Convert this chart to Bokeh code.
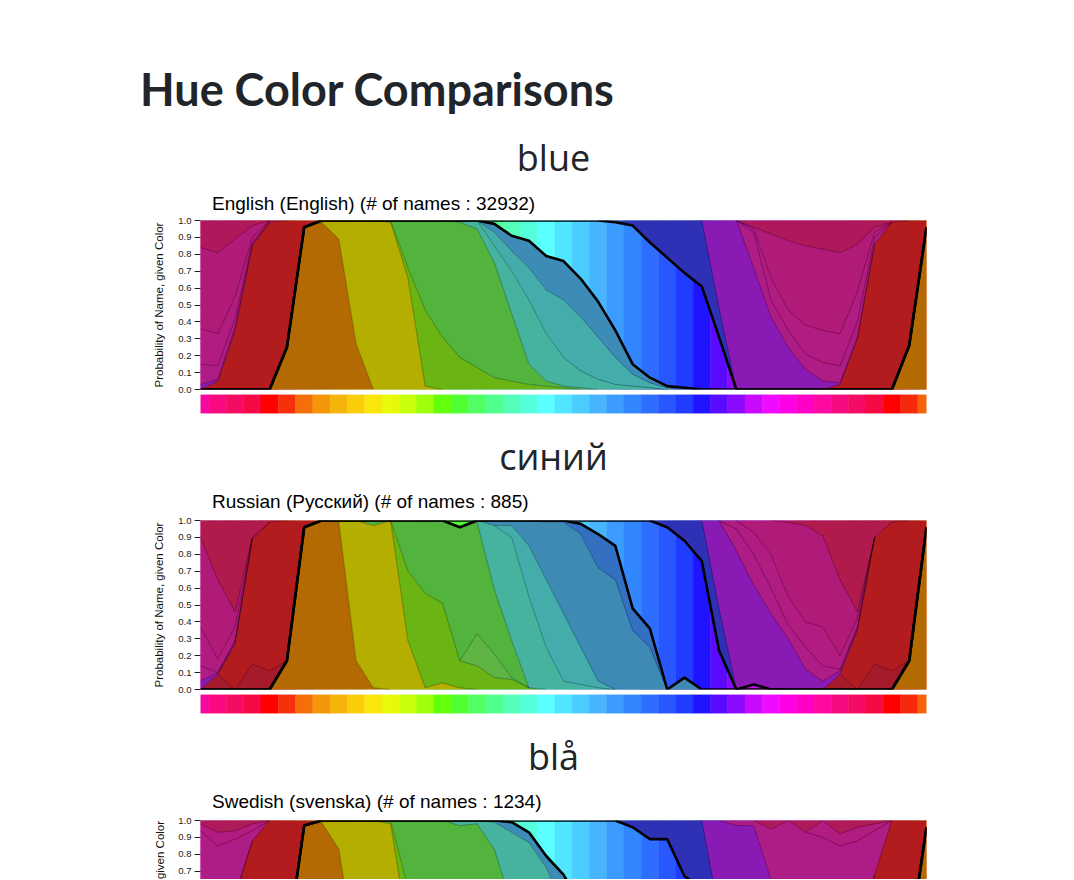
import html
import numpy as np
from bokeh.plotting import figure
from bokeh.models import FixedTicker, Range1d, PrintfTickFormatter, Div
from bokeh.layouts import column, row
from bokeh.embed import file_html
from bokeh.resources import INLINE
from bokeh.core.properties import value

# ---------------- data ----------------
page_title = "Hue Color Comparisons"
y_axis_title = "Probability of Name, given Color"
y_ticks = [0.0, 0.1, 0.2, 0.3, 0.4, 0.5, 0.6, 0.7, 0.8, 0.9, 1.0]

hue_colors = [
    "#F40AA0", "#FA0A80", "#F50A64", "#F50A46", "#FF0000", "#F5300A", "#F56E0A", "#F5960A", "#F5B40A", "#FACD0A",
    "#FAE60A", "#E6FA0A", "#C8FF0A", "#A0FF0A", "#64FF0A", "#50FF32", "#50FF64", "#50FF8C", "#55FFB9", "#55FFDC",
    "#5AFFFF", "#50E6FF", "#4BCDFF", "#46B4FF", "#3C9BFF", "#3287FF", "#2D6EFF", "#2857FF", "#203CFF", "#1E14FF",
    "#5A0AFF", "#8C0AFF", "#C80AFF", "#F00AFF", "#FF00E6", "#FF00C8", "#FF0AA0", "#F50A80", "#F50A64", "#F50A46",
    "#FF0000", "#F52A0A", "#F5640A"]

# English
en_heading = "blue"
en_subtitle = "English (English) (# of names : 32932)"
en_selected = "blue"
en_orange = [0, 0, 0, 0, 0, .25, .96, .99, .89, .27,
             0, 0, 0, 0, 0, 0, 0, 0, 0, 0,
             0, 0, 0, 0, 0, 0, 0, 0, 0, 0,
             0, 0, 0, 0, 0, 0, 0, 0, 0, 0,
             0, .26, .96]
en_yellow = [0, 0, 0, 0, 0, 0, 0, .01, .11, .73,
             1, .99, .66, .02, 0, 0, 0, 0, 0, 0,
             0, 0, 0, 0, 0, 0, 0, 0, 0, 0,
             0, 0, 0, 0, 0, 0, 0, 0, 0, 0,
             0, 0, 0]
en_lime = [0, 0, 0, 0, 0, 0, 0, 0, 0, 0,
           0, .01, .06, .45, .31, .19, .13, .07, .05, .03,
           .02, .01, 0, 0, 0, 0, 0, 0, 0, 0,
           0, 0, 0, 0, 0, 0, 0, 0, 0, 0,
           0, 0, 0]
en_green = [0, 0, 0, 0, 0, 0, 0, 0, 0, 0,
            0, 0, .28, .53, .69, .80, .82, .68, .40, .12,
            .03, .01, .01, 0, 0, 0, 0, 0, 0, 0,
            0, 0, 0, 0, 0, 0, 0, 0, 0, 0,
            0, 0, 0]
en_teal = [0, 0, 0, 0, 0, 0, 0, 0, 0, 0,
           0, 0, 0, 0, 0, .01, .05, .10, .25, .38,
           .28, .17, .10, .06, .03, .02, .01, 0, 0, 0,
           0, 0, 0, 0, 0, 0, 0, 0, 0, 0,
           0, 0, 0]
en_turquoise = [0, 0, 0, 0, 0, 0, 0, 0, 0, 0,
                0, 0, 0, 0, 0, 0, 0, .08, .12, .19,
                .26, .34, .32, .25, .16, .07, .03, .01, 0, 0,
                0, 0, 0, 0, 0, 0, 0, 0, 0, 0,
                0, 0, 0]
en_steelblue = [0, 0, 0, 0, 0, 0, 0, 0, 0, 0,
                0, 0, 0, 0, 0, 0, 0, .05, .09, .16,
                .20, .23, .225, .21, .16, .06, .03, .01, .01, 0,
                0, 0, 0, 0, 0, 0, 0, 0, 0, 0,
                0, 0, 0]
en_blue = [0, 0, 0, 0, 0, 0, 0, 0, 0, 0,
           0, 0, 0, 0, 0, 0, 0, .02, .09, .12,
           .21, .24, .345, .48, .64, .82, .80, .76, .68, .61,
           .31, 0, 0, 0, 0, 0, 0, 0, 0, 0,
           0, 0, 0]
en_navy = [0, 0, 0, 0, 0, 0, 0, 0, 0, 0,
           0, 0, 0, 0, 0, 0, 0, 0, 0, 0,
           0, 0, 0, 0, .01, .03, .13, .22, .31, .39,
           .17, 0, 0, 0, 0, 0, 0, 0, 0, 0,
           0, 0, 0]
en_red = [0, .05, .35, .85, .99, .75, .04, 0, 0, 0,
          0, 0, 0, 0, 0, 0, 0, 0, 0, 0,
          0, 0, 0, 0, 0, 0, 0, 0, 0, 0,
          0, 0, 0, 0, 0, 0, 0, .03, .30, .86,
          .99, .74, .04]
en_purple = [.03, .01, .02, .01, 0, 0, 0, 0, 0, 0,
             0, 0, 0, 0, 0, 0, 0, 0, 0, 0,
             0, 0, 0, 0, 0, 0, 0, 0, 0, 0,
             .52, 1.0, .72, .43, .25, .12, .05, .01, .01, 0,
             0, 0, 0]
en_magenta = [.12, .08, .05, .01, .01, 0, 0, 0, 0, 0,
              0, 0, 0, 0, 0, 0, 0, 0, 0, 0,
              0, 0, 0, 0, 0, 0, 0, 0, 0, 0,
              0, 0, .21, .10, .10, .09, .11, .10, .09, .04,
              0, 0, 0]
en_pink = [.21, .19, .13, .03, 0, 0, 0, 0, 0, 0,
           0, 0, 0, 0, 0, 0, 0, 0, 0, 0,
           0, 0, 0, 0, 0, 0, 0, 0, 0, 0,
           0, 0, .02, .13, .12, .17, .19, .19, .18, .03,
           0, 0, 0]
en_fuchsia = [.48, .48, .34, .07, 0, 0, 0, 0, 0, 0,
              0, 0, 0, 0, 0, 0, 0, 0, 0, 0,
              0, 0, 0, 0, 0, 0, 0, 0, 0, 0,
              0, 0, .01, .26, .41, .47, .48, .48, .28, .03,
              0, 0, 0]
en_crimson = [.16, .19, .11, .03, 0, 0, 0, 0, 0, 0,
              0, 0, 0, 0, 0, 0, 0, 0, 0, 0,
              0, 0, 0, 0, 0, 0, 0, 0, 0, 0,
              0, 0, .04, .08, .12, .15, .17, .19, .14, .04,
              .01, 0, 0]
en_terms = ["orange", "yellow", "lime", "green", "teal", "turquoise", "steelblue", "blue",
            "navy", "red", "purple", "magenta", "pink", "fuchsia", "crimson"]
en_values = [en_orange, en_yellow, en_lime, en_green, en_teal, en_turquoise, en_steelblue, en_blue,
             en_navy, en_red, en_purple, en_magenta, en_pink, en_fuchsia, en_crimson]

# Russian
ru_heading = "синий"
ru_subtitle = "Russian (Русский) (# of names : 885)"
ru_selected = "синий"
ru_orange = [0, 0, 0, 0, 0, .17, .96, 1.0, .99, .17,
             .01, 0, 0, 0, 0, 0, 0, 0, 0, 0,
             0, 0, 0, 0, 0, 0, 0, 0, 0, 0,
             0, 0, 0, 0, 0, 0, 0, 0, 0, 0,
             0, .17, .96]
ru_yellow = [0, 0, 0, 0, 0, 0, 0, 0, .01, .83,
             .96, 1.0, .29, .01, .04, .01, 0, 0, 0, 0,
             0, 0, 0, 0, 0, 0, 0, 0, 0, 0,
             0, 0, 0, 0, 0, 0, 0, 0, 0, 0,
             0, 0, 0]
ru_lime = [0, 0, 0, 0, 0, 0, 0, 0, 0, 0,
           0, 0, .41, .56, .47, .16, .14, .07, .06, .01,
           0, 0, 0, 0, 0, 0, 0, 0, 0, 0,
           0, 0, 0, 0, 0, 0, 0, 0, 0, 0,
           0, 0, 0]
ru_lightgreen = [0, 0, 0, 0, 0, 0, 0, 0, 0, 0,
                 0, 0, 0, 0, 0, 0, .19, .14, .01, 0,
                 0, 0, 0, 0, 0, 0, 0, 0, 0, 0,
                 0, 0, 0, 0, 0, 0, 0, 0, 0, 0,
                 0, 0, 0]
ru_green = [0, 0, 0, 0, 0, 0, 0, 0, 0, 0,
            .03, 0, .30, .43, .49, .79, .66, .38, .22, 0,
            0, 0, 0, 0, 0, 0, 0, 0, 0, 0,
            0, 0, 0, 0, 0, 0, 0, 0, 0, 0,
            0, 0, 0]
ru_teal = [0, 0, 0, 0, 0, 0, 0, 0, 0, 0,
           0, 0, 0, 0, 0, 0, .01, .38, .61, .54,
           .25, .05, .03, .01, 0, 0, 0, 0, 0, 0,
           0, 0, 0, 0, 0, 0, 0, 0, 0, 0,
           0, 0, 0]
ru_turquoise = [0, 0, 0, 0, 0, 0, 0, 0, 0, 0,
                0, 0, 0, 0, 0, 0, 0, 0, .07, .30,
                .40, .40, .22, .04, 0, 0, 0, 0, 0, 0,
                0, 0, 0, 0, 0, 0, 0, 0, 0, 0,
                0, 0, 0]
ru_lightblue = [0, 0, 0, 0, 0, 0, 0, 0, 0, 0,
                0, 0, 0, 0, 0, 0, 0, .03, .03, .15,
                .34, .54, .67, .67, .65, .35, .25, 0, .07, 0,
                0, 0, 0, 0, 0, 0, 0, 0, 0, 0,
                0, 0, 0]
ru_darkblue = [0, 0, 0, 0, 0, 0, 0, 0, 0, 0,
               0, 0, 0, 0, 0, 0, 0, 0, 0, 0,
               .01, .01, .06, .20, .20, .13, .11, 0, 0, 0,
               0, 0, 0, 0, 0, 0, 0, 0, 0, 0,
               0, 0, 0]
ru_blue = [0, 0, 0, 0, 0, 0, 0, 0, 0, 0,
           0, 0, 0, 0, 0, .04, 0, 0, 0, 0,
           0, 0, .02, .08, .15, .52, .64, .96, .81, .76,
           .23, 0, .03, 0, 0, 0, 0, 0, 0, 0,
           0, 0, 0]
ru_navy = [0, 0, 0, 0, 0, 0, 0, 0, 0, 0,
           0, 0, 0, 0, 0, 0, 0, 0, 0, 0,
           0, 0, 0, 0, 0, 0, 0, .04, .12, .24,
           .25, 0, 0, 0, 0, 0, 0, 0, 0, 0,
           0, 0, 0]
ru_maroon = [0, .09, 0, .15, .11, 0, 0, 0, 0, 0,
             0, 0, 0, 0, 0, 0, 0, 0, 0, 0,
             0, 0, 0, 0, 0, 0, 0, 0, 0, 0,
             0, 0, 0, 0, 0, 0, 0, .09, 0, .15,
             .11, 0, 0]
ru_red = [0, 0, .27, .74, .88, .83, .04, 0, 0, 0,
          0, 0, 0, 0, 0, 0, 0, 0, 0, 0,
          0, 0, 0, 0, 0, 0, 0, 0, 0, 0,
          0, 0, 0, 0, 0, 0, 0, 0, .35, .75,
          .88, .83, .04]
ru_purple = [.05, .01, .01, 0, 0, 0, 0, 0, 0, 0,
             0, 0, 0, 0, 0, 0, 0, 0, 0, 0,
             0, 0, 0, 0, 0, 0, 0, 0, 0, 0,
             .52, .82, .59, .45, .30, .12, .05, .02, .01, 0,
             0, 0, 0]
ru_magenta = [.09, 0, .01, .01, 0, 0, 0, 0, 0, 0,
              0, 0, 0, 0, 0, 0, 0, 0, 0, 0,
              0, 0, 0, 0, 0, 0, 0, 0, 0, 0,
              0, .13, .18, .15, .08, .13, .09, .01, .01, 0,
              0, 0, 0]
ru_pink = [.23, .08, .08, 0, 0, 0, 0, 0, 0, 0,
           0, 0, 0, 0, 0, 0, 0, 0, 0, 0,
           0, 0, 0, 0, 0, 0, 0, 0, 0, 0,
           0, .05, .13, .20, .17, .15, .23, .08, .05, 0,
           0, 0, 0]
ru_fuchsia = [.53, .47, .09, 0, 0, 0, 0, 0, 0, 0,
              0, 0, 0, 0, 0, 0, 0, 0, 0, 0,
              0, 0, 0, 0, 0, 0, 0, 0, 0, 0,
              0, 0, .07, .20, .44, .57, .54, .45, .04, 0,
              0, 0, 0]
ru_crimson = [.10, .35, .54, .10, .01, 0, 0, 0, 0, 0,
              0, 0, 0, 0, 0, 0, 0, 0, 0, 0,
              0, 0, 0, 0, 0, 0, 0, 0, 0, 0,
              0, 0, 0, 0, .01, .03, .09, .35, .54, .10,
              .01, 0, 0]
ru_terms = ["orange", "yellow", "lime", "lightgreen", "green", "teal", "turquoise", "lightblue",
            "darkblue", "синий", "navy", "maroon", "red", "purple", "magenta", "pink", "fuchsia", "crimson"]
ru_values = [ru_orange, ru_yellow, ru_lime, ru_lightgreen, ru_green, ru_teal, ru_turquoise, ru_lightblue,
             ru_darkblue, ru_blue, ru_navy, ru_maroon, ru_red, ru_purple, ru_magenta, ru_pink, ru_fuchsia,
             ru_crimson]

# Swedish
sv_heading = "blå"
sv_subtitle = "Swedish (svenska) (# of names : 1234)"
sv_selected = "blå"
sv_orange = [0, 0, 0, 0, 0, .25, .97, .99, .83, .20,
             0, 0, 0, 0, 0, 0, 0, 0, 0, 0,
             0, 0, 0, 0, 0, 0, 0, 0, 0, 0,
             0, 0, 0, 0, 0, 0, 0, 0, 0, 0,
             0, .26, .96]
sv_yellow = [0, 0, 0, 0, 0, 0, 0, .01, .17, .80,
             1.0, .98, .35, .02, 0, 0, 0, 0, 0, 0,
             0, 0, 0, 0, 0, 0, 0, 0, 0, 0,
             0, 0, 0, 0, 0, 0, 0, 0, 0, 0,
             0, 0, 0]
sv_lime = [0, 0, 0, 0, 0, 0, 0, 0, 0, 0,
           0, .02, .25, .30, .20, .10, .05, .02, 0, 0,
           0, 0, 0, 0, 0, 0, 0, 0, 0, 0,
           0, 0, 0, 0, 0, 0, 0, 0, 0, 0,
           0, 0, 0]
sv_green = [0, 0, 0, 0, 0, 0, 0, 0, 0, 0,
            0, 0, .40, .68, .80, .87, .93, .81, .50, .25,
            .10, .05, 0, 0, 0, 0, 0, 0, 0, 0,
            0, 0, 0, 0, 0, 0, 0, 0, 0, 0,
            0, 0, 0]
sv_teal = [0, 0, 0, 0, 0, 0, 0, 0, 0, 0,
           0, 0, 0, 0, 0, .03, .02, .16, .43, .62,
           .62, .45, .30, .15, .05, 0, 0, 0, 0, 0,
           0, 0, 0, 0, 0, 0, 0, 0, 0, 0,
           0, 0, 0]
sv_steelblue = [0, 0, 0, 0, 0, 0, 0, 0, 0, 0,
                0, 0, 0, 0, 0, 0, 0, .01, .06, .06,
                .07, .18, .20, .20, .15, .08, .03, 0, 0, 0,
                0, 0, 0, 0, 0, 0, 0, 0, 0, 0,
                0, 0, 0]
sv_blue = [0, 0, 0, 0, 0, 0, 0, 0, 0, 0,
           0, 0, 0, 0, 0, 0, 0, 0, .01, .07,
           .21, .32, .50, .65, .80, .88, .86, .89, .67, .60,
           .25, 0, 0, 0, 0, 0, 0, 0, 0, 0,
           0, 0, 0]
sv_navy = [0, 0, 0, 0, 0, 0, 0, 0, 0, 0,
           0, 0, 0, 0, 0, 0, 0, 0, 0, 0,
           0, 0, 0, 0, 0, .04, .11, .11, .33, .40,
           .20, 0, 0, 0, 0, 0, 0, 0, 0, 0,
           0, 0, 0]
sv_red = [0, .03, .55, .88, 1.0, .75, .03, 0, 0, 0,
          0, 0, 0, 0, 0, 0, 0, 0, 0, 0,
          0, 0, 0, 0, 0, 0, 0, 0, 0, 0,
          0, 0, 0, 0, 0, 0, 0, 0, .30, .68,
          1.0, .74, .04]
sv_purple = [.02, .02, .01, 0, 0, 0, 0, 0, 0, 0,
             0, 0, 0, 0, 0, 0, 0, 0, 0, 0,
             0, 0, 0, 0, 0, 0, 0, 0, 0, 0,
             .55, .97, .97, .65, .45, .30, .15, .08, .02, 0,
             0, 0, 0]
sv_magenta = [.92, .80, .33, .06, 0, 0, 0, 0, 0, 0,
              0, 0, 0, 0, 0, 0, 0, 0, 0, 0,
              0, 0, 0, 0, 0, 0, 0, 0, 0, 0,
              0, .03, .03, .30, .55, .63, .75, .77, .56, .26,
              0, 0, 0]
sv_pink = [.04, .08, .05, .04, 0, 0, 0, 0, 0, 0,
           0, 0, 0, 0, 0, 0, 0, 0, 0, 0,
           0, 0, 0, 0, 0, 0, 0, 0, 0, 0,
           0, 0, 0, 0, 0, 0, .10, .07, .08, .04,
           0, 0, 0]
sv_crimson = [.02, .07, .06, .02, 0, 0, 0, 0, 0, 0,
              0, 0, 0, 0, 0, 0, 0, 0, 0, 0,
              0, 0, 0, 0, 0, 0, 0, 0, 0, 0,
              0, 0, 0, .05, 0, .07, 0, .08, .04, .02,
              0, 0, 0]
sv_terms = ["orange", "yellow", "lime", "green", "teal", "steelblue", "blå", "navy",
            "red", "purple", "magenta", "pink", "crimson"]
sv_values = [sv_orange, sv_yellow, sv_lime, sv_green, sv_teal, sv_steelblue, sv_blue, sv_navy,
             sv_red, sv_purple, sv_magenta, sv_pink, sv_crimson]

# ---------------- styles ----------------
term_colors = {
    "orange": "#B46A02", "yellow": "#B4AE00", "lime": "#6AB414", "lightgreen": "#5FB443",
    "green": "#52B43C", "teal": "#45B39E", "turquoise": "#44ADAC", "steelblue": "#3D8BB7",
    "lightblue": "#3D8AB5", "darkblue": "#3470C2", "navy": "#2E30B6", "red": "#B21C1E",
    "maroon": "#A51B2C", "purple": "#891BB4", "magenta": "#AE1C86", "pink": "#B01C80",
    "fuchsia": "#B01B7A", "crimson": "#AF1958",
}
crimson_by_panel = {"en": "#B0185C", "ru": "#B01A4C", "sv": "#AF1A5A"}

TEXT_DARK = "#212529"
SANS = "Liberation Sans"
PAGE_W = 1074
FRAME_LEFT = 200
FRAME_W = 726
RIGHT_BORDER = PAGE_W - FRAME_LEFT - FRAME_W
PX_PER_V = 169.0
K = len(hue_colors)
xs = np.arange(K, dtype=float)


def masked_line(y, v):
    nz = np.asarray(v, float) > 0
    keep = nz.copy()
    keep[1:] |= nz[:-1]
    keep[:-1] |= nz[1:]
    out = np.asarray(y, float).copy()
    out[~keep] = np.nan
    return out


def text_block(left, width, baseline, text, family, size, weight, color, align, ascent):
    top = baseline - ascent * size
    w = f"width:{width}px;" if width else ""
    return (f'<div style="position:absolute;left:{left}px;{w}top:{top:.1f}px;'
            f'font-family:\'{family}\';font-size:{size}px;line-height:{size}px;font-weight:{weight};'
            f'color:{color};text-align:{align};white-space:nowrap;margin:0;padding:0;">'
            f'{html.escape(text)}</div>')


def header(height, heading, subtitle, heading_base, sub_base, title=None):
    parts = []
    if title is not None:
        parts.append(text_block(140, None, 107, title, "Lato", 45, "bold", TEXT_DARK, "left", 0.887))
    parts.append(text_block(0, 1107, heading_base, heading, "Open Sans", 36, "normal", TEXT_DARK,
                            "center", 0.888))
    parts.append(text_block(212, None, sub_base, subtitle, SANS, 19, "normal", "#000000", "left", 0.8465))
    inner = (f'<div style="position:relative;width:{PAGE_W}px;height:{height}px;overflow:hidden;">'
             + "".join(parts) + "</div>")
    return Div(text=inner, width=PAGE_W, height=height, margin=0)


def make_chart(key, terms, values, selected, height, top_border, bottom_border, y_start,
               left_border=FRAME_LEFT, axis_label=True):
    p = figure(width=left_border + FRAME_W + RIGHT_BORDER, height=height,
               x_range=Range1d(0, K - 1), y_range=Range1d(y_start, 1.0),
               x_axis_location=None, toolbar_location=None, output_backend="svg",
               min_border_left=left_border, min_border_right=RIGHT_BORDER,
               min_border_top=top_border, min_border_bottom=bottom_border)
    p.grid.visible = False
    p.outline_line_color = "#bbbbbb"
    p.outline_line_alpha = 0.6

    # hue background
    p.quad(left=xs - 0.5, right=xs + 0.5, bottom=0, top=1, fill_color=hue_colors,
           line_color=hue_colors, line_width=0.5)

    cum = np.zeros(K)
    bounds = []
    sel = None
    for name, vals in zip(terms, values):
        v = np.asarray(vals, float)
        lo, hi = cum.copy(), cum + v
        if name == selected:
            sel = (lo, hi)
        else:
            col = crimson_by_panel[key] if name == "crimson" else term_colors[name]
            p.varea(x=xs, y1=lo, y2=hi, fill_color=col)
            bounds.append((lo, hi, v))
        cum = hi

    for lo, hi, v in bounds:
        p.line(xs, masked_line(hi, v), line_color="black", line_alpha=0.2, line_width=1)
        p.line(xs, masked_line(lo, v), line_color="black", line_alpha=0.12, line_width=1)

    if sel is not None:
        for yy in sel:
            p.line(xs, yy, line_color="black", line_width=2.6, line_join="round")

    ax = p.yaxis[0]
    ax.ticker = FixedTicker(ticks=y_ticks)
    ax.formatter = PrintfTickFormatter(format="%.1f")
    ax.major_tick_out = 6
    ax.major_tick_in = 0
    ax.major_tick_line_color = "#222222"
    ax.minor_tick_line_color = None
    ax.axis_line_color = None
    ax.major_label_text_font = SANS
    ax.major_label_text_font_size = "9.5px"
    ax.major_label_text_color = "#222222"
    ax.major_label_standoff = 3
    if axis_label:
        ax.axis_label = y_axis_title
        ax.axis_label_text_font = SANS
        ax.axis_label_text_font_size = "11.5px"
        ax.axis_label_text_font_style = "normal"
        ax.axis_label_text_color = "#111111"
        ax.axis_label_standoff = 10
    return p


def make_strip(x_range, bottom_border):
    s = figure(width=PAGE_W, height=19 + bottom_border, x_range=x_range, y_range=Range1d(0, 1),
               x_axis_location=None, y_axis_location=None, toolbar_location=None,
               output_backend="svg", min_border_left=FRAME_LEFT, min_border_right=RIGHT_BORDER,
               min_border_top=0, min_border_bottom=bottom_border)
    s.grid.visible = False
    s.outline_line_color = None
    s.quad(left=xs - 0.5, right=xs + 0.5, bottom=0, top=1, fill_color=hue_colors,
           line_color=hue_colors, line_width=0.5)
    return s


# panel 1 (page y 0 .. 420): frame 220..389
h1 = header(216, en_heading, en_subtitle, 171.5, 210, title=page_title)
c1 = make_chart("en", en_terms, en_values, en_selected, 178, 4, 5, 0.0)
s1 = make_strip(c1.x_range, 7)
# panel 2 (page y 420 .. 720): frame 520..689
h2 = header(96, ru_heading, ru_subtitle, 50.5, 88.5)
c2 = make_chart("ru", ru_terms, ru_values, ru_selected, 178, 4, 5, 0.0)
s2 = make_strip(c2.x_range, 7)
# panel 3 (page y 720 .. 879): only the top of the chart fits in the window
h3 = header(96, sv_heading, sv_subtitle, 50.5, 88.5)
C3_H = 63
c3_frame = C3_H - 4
c3 = make_chart("sv", sv_terms, sv_values, sv_selected, C3_H, 4, 0, 1.0 - c3_frame / PX_PER_V,
                left_border=30, axis_label=False)
lab3 = figure(width=FRAME_LEFT - 30, height=C3_H, x_range=Range1d(0, FRAME_LEFT - 30),
              y_range=Range1d(0, C3_H), x_axis_location=None, y_axis_location=None,
              toolbar_location=None, output_backend="svg", min_border=0)
lab3.grid.visible = False
lab3.outline_line_color = None
lab3.text(x=[159.5], y=[c3_frame - PX_PER_V / 2.0], text=[y_axis_title], angle=np.pi / 2,
          text_font=value(SANS), text_font_size=value("11.5px"), text_color="#111111",
          text_align="center", text_baseline="middle")

layout = column(h1, c1, s1, h2, c2, s2, h3, row(lab3, c3, spacing=0), spacing=0)

open("out.html", "w").write(file_html(layout, INLINE))
